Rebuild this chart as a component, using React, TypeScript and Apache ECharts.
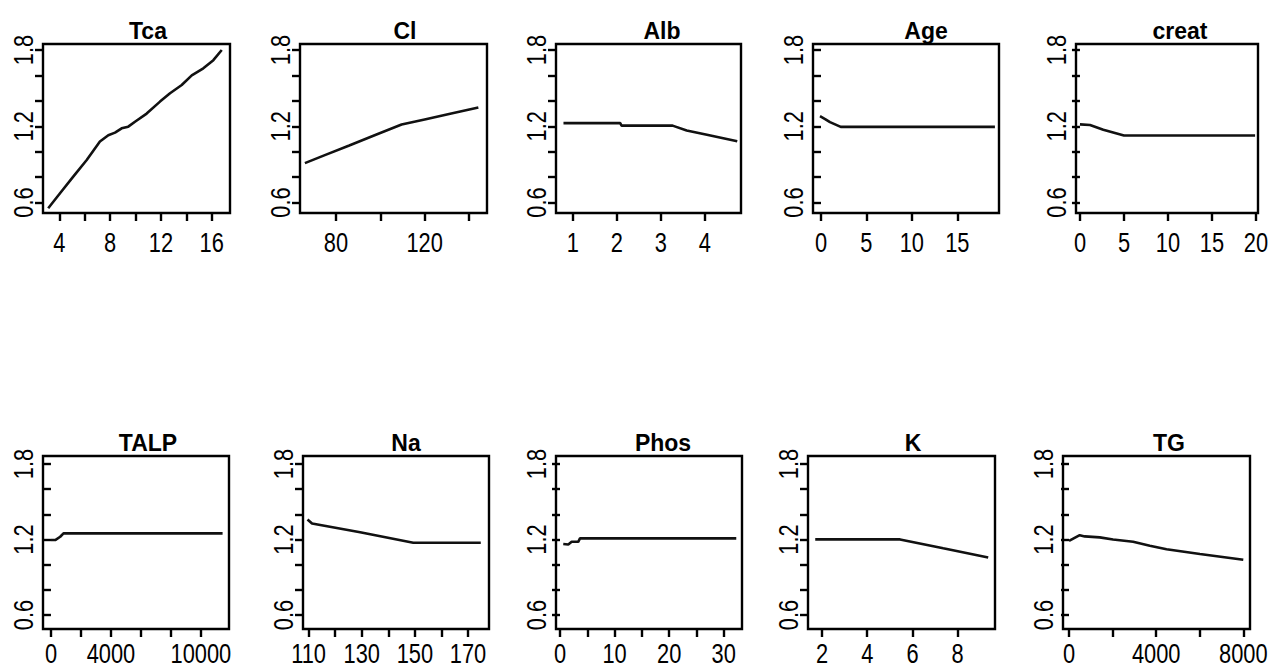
import React, { useEffect, useRef } from "react";
import * as echarts from "echarts";

// ---- data ----
const panelTitles = ["Tca", "Cl", "Alb", "Age", "creat", "TALP", "Na", "Phos", "K", "TG"];

const tcaCurve = [[3.13, 0.555], [4.06, 0.673], [5.1, 0.804], [6.16, 0.935], [7.2, 1.08], [7.86, 1.13], [8.39, 1.15], [8.91, 1.184], [9.43, 1.197], [9.96, 1.236], [10.88, 1.3], [11.93, 1.394], [12.72, 1.46], [13.64, 1.525], [14.43, 1.6], [15.34, 1.656], [16.13, 1.72], [16.79, 1.8]];
const clCurve = [[66, 0.91], [75, 0.973], [86, 1.049], [98, 1.133], [109.6, 1.214], [120, 1.254], [132, 1.3], [144.2, 1.347]];
const albCurve = [[0.79, 1.225], [2.08, 1.225], [2.11, 1.205], [3.27, 1.205], [3.59, 1.167], [4.05, 1.133], [4.74, 1.082]];
const ageCurve = [[-0.11, 1.28], [0.5, 1.255], [0.99, 1.233], [2.17, 1.195], [19.14, 1.195]];
const creatCurve = [[0, 1.215], [1.14, 1.21], [2.65, 1.173], [5, 1.128], [19.9, 1.128]];
const talpCurve = [[0, 1.196], [285, 1.196], [617, 1.222], [836, 1.249], [11450, 1.249]];
const naCurve = [[109.6, 1.36], [111.3, 1.328], [129.4, 1.258], [149.4, 1.174], [174.8, 1.174]];
const phosCurve = [[0.6, 1.164], [1.52, 1.16], [2.14, 1.182], [3.35, 1.182], [3.66, 1.209], [32.3, 1.209]];
const kCurve = [[1.7, 1.201], [5.45, 1.201], [7.36, 1.13], [9.35, 1.058]];
const tgCurve = [[0, 1.19], [492, 1.235], [722, 1.225], [1411, 1.217], [2023, 1.2], [2943, 1.182], [3710, 1.15], [4478, 1.123], [6009, 1.085], [8000, 1.04]];

const curves = [tcaCurve, clCurve, albCurve, ageCurve, creatCurve, talpCurve, naCurve, phosCurve, kCurve, tgCurve];

const xTickValues = [
  [4, 6, 8, 10, 12, 14, 16],
  [80, 100, 120, 140],
  [1, 2, 3, 4],
  [0, 5, 10, 15],
  [0, 5, 10, 15, 20],
  [0, 2000, 4000, 6000, 8000, 10000],
  [110, 120, 130, 140, 150, 160, 170],
  [0, 5, 10, 15, 20, 25, 30],
  [2, 4, 6, 8],
  [0, 2000, 4000, 6000, 8000],
];
const xLabelValues = [
  [4, 8, 12, 16],
  [80, 120],
  [1, 2, 3, 4],
  [0, 5, 10, 15],
  [0, 5, 10, 15, 20],
  [0, 4000, 10000],
  [110, 130, 150, 170],
  [0, 10, 20, 30],
  [2, 4, 6, 8],
  [0, 4000, 8000],
];
const yTickValues = [0.6, 0.8, 1.0, 1.2, 1.4, 1.6, 1.8];
const yLabelValues = [0.6, 1.2, 1.8];

// ---- layout (pixel boxes and axis ranges) ----
const boxes = [
  { left: 43, top: 44, width: 187, height: 169, xMin: 2.72, xMax: 17.44, yMin: 0.518, yMax: 1.847, titleX: 148, labelDy: 29 },
  { left: 300, top: 44, width: 187, height: 169, xMin: 63.8, xMax: 148.1, yMin: 0.518, yMax: 1.847, titleX: 405, labelDy: 29 },
  { left: 556, top: 44, width: 185, height: 169, xMin: 0.62, xMax: 4.825, yMin: 0.518, yMax: 1.847, titleX: 662, labelDy: 29 },
  { left: 813, top: 44, width: 186, height: 169, xMin: -0.88, xMax: 19.59, yMin: 0.518, yMax: 1.847, titleX: 926, labelDy: 29 },
  { left: 1076, top: 44, width: 182, height: 169, xMin: -0.45, xMax: 20.23, yMin: 0.518, yMax: 1.847, titleX: 1180, labelDy: 29 },
  { left: 43, top: 456, width: 186, height: 173, xMin: -531, xMax: 11878, yMin: 0.489, yMax: 1.864, titleX: 148, labelDy: 24 },
  { left: 303, top: 456, width: 186, height: 173, xMin: 107.9, xMax: 177.9, yMin: 0.489, yMax: 1.864, titleX: 406, labelDy: 24 },
  { left: 556, top: 456, width: 186, height: 173, xMin: -0.73, xMax: 33.35, yMin: 0.489, yMax: 1.864, titleX: 663, labelDy: 24 },
  { left: 808, top: 456, width: 187, height: 173, xMin: 1.38, xMax: 9.65, yMin: 0.489, yMax: 1.864, titleX: 913, labelDy: 24 },
  { left: 1063, top: 456, width: 187, height: 173, xMin: -276, xMax: 8308, yMin: 0.489, yMax: 1.864, titleX: 1169, labelDy: 24 },
];

const LABEL_FONT = '28px "Liberation Sans", Arial, sans-serif';
const TITLE_FONT = '"Liberation Sans", Arial, sans-serif';
const NARROW_SCALE = 0.78;

export default function App() {
  const ref = useRef<HTMLDivElement>(null);

  useEffect(() => {
    if (!ref.current) return;
    const chart = echarts.init(ref.current, undefined, { renderer: "svg" });

    const grid = boxes.map((b) => ({
      left: b.left,
      top: b.top,
      width: b.width,
      height: b.height,
      show: true,
      borderColor: "#000",
      borderWidth: 2.4,
      backgroundColor: "transparent",
      containLabel: false,
    }));

    const xAxis = boxes.map((b, i) => ({
      type: "value",
      gridIndex: i,
      min: b.xMin,
      max: b.xMax,
      axisLine: { show: false },
      splitLine: { show: false },
      axisTick: {
        show: true,
        customValues: xTickValues[i],
        length: 8,
        lineStyle: { color: "#000", width: 2.4 },
      },
      axisLabel: { show: false },
    }));

    const yAxis = boxes.map((b, i) => ({
      type: "value",
      gridIndex: i,
      min: b.yMin,
      max: b.yMax,
      axisLine: { show: false },
      splitLine: { show: false },
      axisTick: {
        show: true,
        customValues: yTickValues,
        length: 8,
        lineStyle: { color: "#000", width: 2.4 },
      },
      axisLabel: { show: false },
    }));

    const series = curves.map((c, i) => ({
      type: "line",
      xAxisIndex: i,
      yAxisIndex: i,
      data: c,
      showSymbol: false,
      symbol: "none",
      lineStyle: { color: "#111", width: 2.6 },
      silent: true,
    }));

    const title = boxes.map((b, i) => ({
      text: panelTitles[i],
      left: b.titleX,
      top: b.top - 25,
      textAlign: "center",
      padding: 0,
      textStyle: {
        fontFamily: TITLE_FONT,
        fontWeight: "bold",
        fontSize: 23,
        color: "#000",
      },
    }));

    chart.setOption({
      animation: false,
      backgroundColor: "#fff",
      title,
      grid,
      xAxis,
      yAxis,
      series,
    } as any);

    // Tick labels in a condensed style, placed through the axes' own scales.
    const graphics: any[] = [];
    boxes.forEach((b, i) => {
      xLabelValues[i].forEach((v) => {
        const px = chart.convertToPixel({ xAxisIndex: i } as any, v) as unknown as number;
        graphics.push({
          type: "text",
          x: px,
          y: b.top + b.height + b.labelDy,
          scaleX: NARROW_SCALE,
          silent: true,
          style: {
            text: String(v),
            font: LABEL_FONT,
            fill: "#000",
            align: "center",
            verticalAlign: "middle",
            textAlign: "center",
            textVerticalAlign: "middle",
          },
        });
      });
      yLabelValues.forEach((v) => {
        const py = chart.convertToPixel({ yAxisIndex: i } as any, v) as unknown as number;
        graphics.push({
          type: "text",
          x: b.left - 20,
          y: py,
          rotation: Math.PI / 2,
          scaleX: NARROW_SCALE,
          silent: true,
          style: {
            text: v.toFixed(1),
            font: LABEL_FONT,
            fill: "#000",
            align: "center",
            verticalAlign: "middle",
            textAlign: "center",
            textVerticalAlign: "middle",
          },
        });
      });
    });
    chart.setOption({ graphic: graphics } as any);

    return () => chart.dispose();
  }, []);

  return (
    <div
      ref={ref}
      style={{ position: "absolute", left: 0, top: 0, width: 1268, height: 669, background: "#fff" }}
    />
  );
}
